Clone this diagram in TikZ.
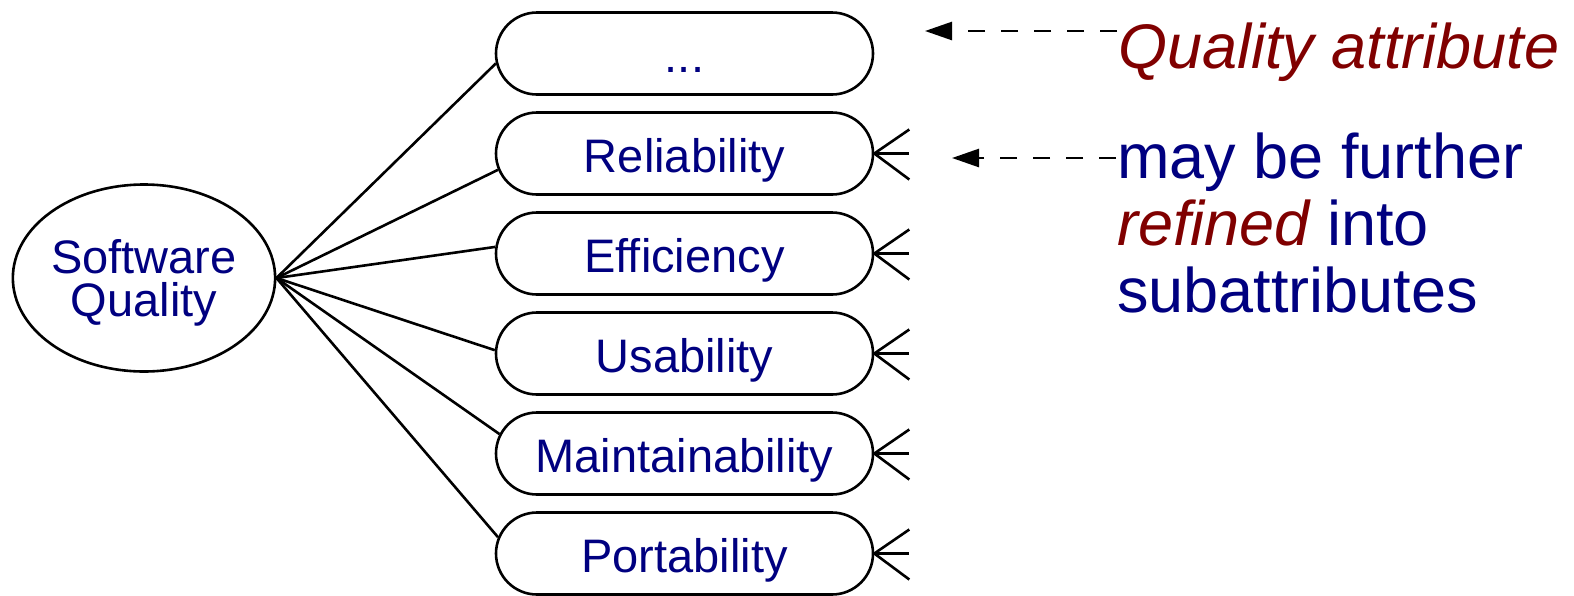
\documentclass[tikz,border=0pt]{standalone}
\usepackage{fontspec}
\setmainfont{Liberation Sans}
\usepackage{xcolor}
\usepackage{tikz}
\usetikzlibrary{shapes,arrows.meta}
\definecolor{qualblue}{HTML}{000080}
\definecolor{qualred}{HTML}{800000}

\tikzset{
  attr/.style={draw, rounded rectangle, minimum width=377pt, minimum height=82pt, inner sep=0pt,
    text height=38pt, text depth=0pt, text=qualblue, font=\fontsize{47}{43}\selectfont},
  refine/.style={dash pattern=on 17pt off 16pt, -{Triangle[length=27pt,width=18pt]}},
  note/.style={inner sep=0pt, font=\fontsize{63}{67}\selectfont}
}

\begin{document}
\begin{tikzpicture}[x=1pt, y=-1pt, line width=2.6pt]
  \useasboundingbox (0,0) rectangle (1574,595);

  % Root ellipse
  \node[draw, ellipse, minimum width=262pt, minimum height=187pt, inner sep=0pt, align=center,
    text depth=0pt, text=qualblue, font=\fontsize{47}{43}\selectfont] (sq) at (144,278) {Software\\Quality};

  % Attribute boxes
  \node[attr] (dots) at (684.5,53.5) {...};
  \node[attr] (rel) at (684.5,153.5) {Reliability};
  \node[attr] (eff) at (684.5,253.5) {Efficiency};
  \node[attr] (usa) at (684.5,353.5) {Usability};
  \node[attr] (mai) at (684.5,453.5) {Maintainability};
  \node[attr] (por) at (684.5,553.5) {Portability};

  % Links from the root
  \draw (sq.east) -- (dots.183.5);
  \draw (sq.east) -- (rel.185);
  \draw (sq.east) -- (eff.178.3);
  \draw (sq.east) -- (usa.179.5);
  \draw (sq.east) -- (mai.174.4);
  \draw (sq.east) -- (por.175.9);

  % Crow's feet
  \foreach \b in {rel,eff,usa,mai,por} {
    \draw (\b.east) -- ++(35,-24);
    \draw (\b.east) -- ++(35,0);
    \draw (\b.east) -- ++(35,26);
  }

  % Notes
  \node[note, anchor=base west, text=qualred, font=\fontsize{63}{67}\selectfont\itshape] (qa) at (1117,68) {Quality attribute};
  \coordinate (tipA) at (925,31);
  \draw[refine] (qa.west |- tipA) -- (tipA);

  \node[note, anchor=base west, align=left, text=qualblue] (sub) at (1116,312)
    {may be further\\\textcolor{qualred}{\itshape refined} into\\subattributes};
  \coordinate (tipB) at (952,158);
  \draw[refine] (sub.west |- tipB) -- (tipB);
\end{tikzpicture}
\end{document}
